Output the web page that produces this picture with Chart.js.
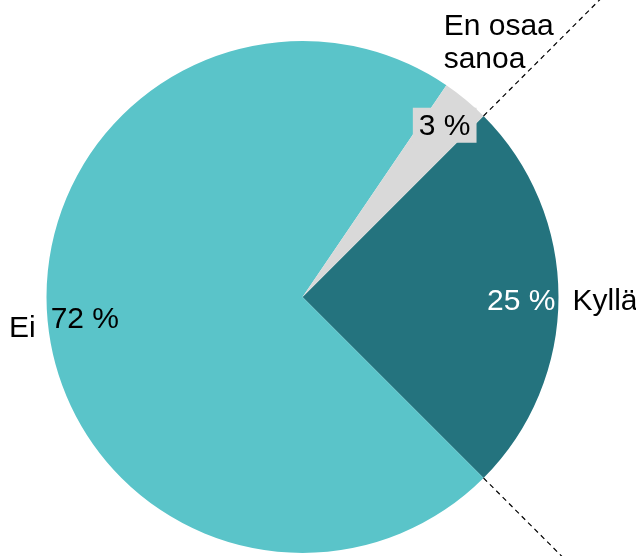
<!DOCTYPE html>
<html>
<head>
<meta charset="utf-8">
<script src="https://cdn.jsdelivr.net/npm/chart.js@4/dist/chart.umd.min.js"></script>
<style>
  html, body { margin: 0; padding: 0; background: #fff; }
  #wrap { width: 636px; height: 556px; }
</style>
</head>
<body>
<div id="wrap"><canvas id="c" width="636" height="556"></canvas></div>
<script>
// Vastausten jakauma (%)
const categories = ['Kyllä', 'Ei', 'En osaa sanoa'];
const values = [25, 72, 3];
const sliceColors = ['#24737e', '#5ac4c9', '#d9d9d9'];

const FONT = '30px "Liberation Sans", Arial, sans-serif';

// Label placement per slice, relative to the point on the rim at the slice's mid angle
const labelStyle = [
  { pct: { dx: -3, dy: 13, align: 'right', color: '#ffffff' },
    name: [{ dx: 14, dy: 13, align: 'left' }] },
  { pct: { dx: 3, dy: 7, align: 'left', color: '#000000' },
    name: [{ dx: -12, dy: 16, align: 'right' }] },
  { pct: { dx: -21, dy: 35, align: 'center', color: '#000000', box: '#d9d9d9' },
    name: [{ dx: -22, dy: -65, align: 'left', text: 'En osaa' },
           { dx: -22, dy: -32, align: 'left', text: 'sanoa' }] }
];

// Dashed guide lines continuing the edges of the first slice beyond the rim
const guidePlugin = {
  id: 'guides',
  afterDatasetsDraw(chart) {
    const arc = chart.getDatasetMeta(0).data[0];
    const ctx = chart.ctx;
    const W = chart.width, H = chart.height;
    ctx.save();
    ctx.setLineDash([5, 4]);
    ctx.strokeStyle = '#000';
    ctx.lineWidth = 1.2;
    [arc.startAngle, arc.endAngle].forEach(a => {
      const c = Math.cos(a), s = Math.sin(a);
      const x0 = arc.x + c * arc.outerRadius, y0 = arc.y + s * arc.outerRadius;
      const t = 2 * Math.max(W, H);
      ctx.beginPath();
      ctx.moveTo(x0, y0);
      ctx.lineTo(x0 + c * t, y0 + s * t);
      ctx.stroke();
    });
    ctx.restore();
  }
};

const labelPlugin = {
  id: 'sliceLabels',
  afterDatasetsDraw(chart) {
    const ctx = chart.ctx;
    const ds = chart.data.datasets[0];
    ctx.save();
    ctx.font = FONT;
    ctx.textBaseline = 'alphabetic';
    chart.getDatasetMeta(0).data.forEach((arc, i) => {
      const mid = (arc.startAngle + arc.endAngle) / 2;
      const ax = arc.x + Math.cos(mid) * arc.outerRadius;
      const ay = arc.y + Math.sin(mid) * arc.outerRadius;
      const st = labelStyle[i];
      const txt = ds.data[i] + ' %';
      const px = ax + st.pct.dx, py = ay + st.pct.dy;
      if (st.pct.box) {
        const w = ctx.measureText(txt).width;
        ctx.fillStyle = st.pct.box;
        ctx.fillRect(px - w / 2 - 6, py - 27, w + 12, 35);
      }
      ctx.fillStyle = st.pct.color;
      ctx.textAlign = st.pct.align;
      ctx.fillText(txt, px, py);
      ctx.fillStyle = '#000000';
      st.name.forEach(n => {
        ctx.textAlign = n.align;
        ctx.fillText(n.text || chart.data.labels[i], ax + n.dx, ay + n.dy);
      });
    });
    ctx.restore();
  }
};

new Chart(document.getElementById('c'), {
  type: 'pie',
  data: {
    labels: categories,
    datasets: [{
      data: values,
      backgroundColor: sliceColors,
      borderWidth: 0,
      hoverOffset: 0
    }]
  },
  options: {
    responsive: false,
    animation: false,
    events: [],
    rotation: 45,
    layout: { padding: { left: 46, right: 77, top: 41, bottom: 3 } },
    plugins: {
      legend: { display: false },
      tooltip: { enabled: false }
    }
  },
  plugins: [guidePlugin, labelPlugin]
});
</script>
</body>
</html>
